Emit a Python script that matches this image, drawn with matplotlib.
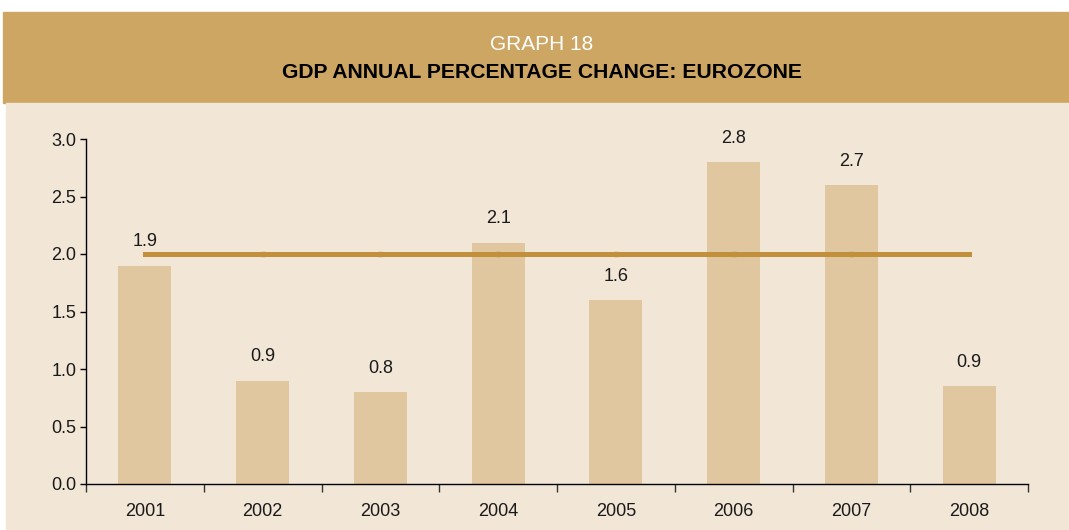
import matplotlib.pyplot as plt
from matplotlib.patches import Rectangle

plt.rcParams['font.family'] = ['Liberation Sans', 'DejaVu Sans']

# data
years = ['2001', '2002', '2003', '2004', '2005', '2006', '2007', '2008']
gdp = [1.9, 0.9, 0.8, 2.1, 1.6, 2.8, 2.6, 0.85]
gdp_labels = ['1.9', '0.9', '0.8', '2.1', '1.6', '2.8', '2.7', '0.9']
target = [2.0, 2.0, 2.0, 2.0, 2.0, 2.0, 2.0, 2.0]

header_col = '#CDA664'
panel_col = '#F2E6D7'
bar_col = '#E0C7A0'
line_col = '#C28F3D'
txt_col = '#1a1a1a'

fig = plt.figure(figsize=(10.69, 5.30), dpi=100)
fig.patch.set_facecolor('white')

# header band and panel background
fig.patches.append(Rectangle((3 / 1069, 427 / 530), 1066 / 1069, 91 / 530,
                             transform=fig.transFigure, color=header_col, zorder=-5))
fig.patches.append(Rectangle((6 / 1069, 0), 1063 / 1069, 427 / 530,
                             transform=fig.transFigure, color=panel_col, zorder=-5))
fig.text(542 / 1069, 1 - 45 / 530, 'GRAPH 18', color='white', fontsize=15,
         ha='center', va='center')
fig.text(542 / 1069, 1 - 73 / 530, 'GDP ANNUAL PERCENTAGE CHANGE: EUROZONE',
         color='black', fontsize=15.2, fontweight='bold', ha='center', va='center')

ax = fig.add_axes([86 / 1069, 46 / 530, 942 / 1069, 345 / 530])
ax.set_facecolor('none')

x = list(range(len(years)))
ax.bar(x, gdp, width=0.45, color=bar_col, zorder=1)
ax.plot(x, target, color=line_col, lw=3.6, marker='s', ms=3.5,
        markevery=[1, 2, 3, 4, 5, 6], zorder=2)

for xi, v, lab in zip(x, gdp, gdp_labels):
    ax.annotate(lab, (xi, v), xytext=(0, 17), textcoords='offset points',
                ha='center', va='center', fontsize=13, color=txt_col)

ax.set_xlim(-0.5, 7.5)
ax.set_ylim(0, 3.0)
ax.set_yticks([0, 0.5, 1.0, 1.5, 2.0, 2.5, 3.0])
ax.set_yticklabels(['0.0', '0.5', '1.0', '1.5', '2.0', '2.5', '3.0'])
ax.set_xticks([i - 0.5 for i in range(len(years) + 1)])
ax.set_xticklabels([])
ax.set_xticks(x, minor=True)
ax.set_xticklabels(years, minor=True)
ax.tick_params(axis='x', which='minor', length=0, pad=13.5, labelsize=13,
               labelcolor=txt_col)
ax.tick_params(axis='x', which='major', length=6, width=1, color='#333333')
ax.tick_params(axis='y', length=4, width=1, labelsize=13, pad=3,
               labelcolor=txt_col)

for s in ['top', 'right']:
    ax.spines[s].set_visible(False)
ax.spines['left'].set_linewidth(1)
ax.spines['bottom'].set_linewidth(1)

fig.savefig('out.png', dpi=100, facecolor=fig.get_facecolor())
